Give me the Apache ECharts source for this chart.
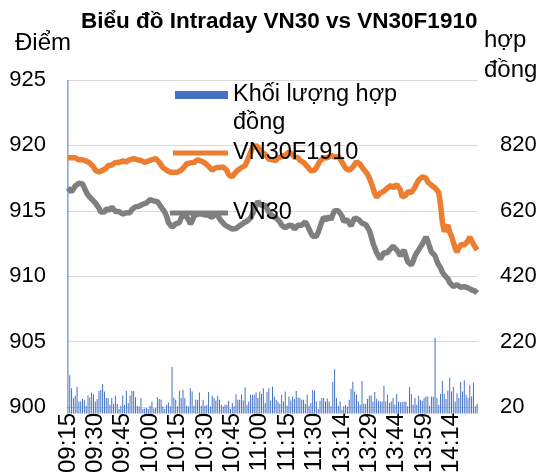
<!DOCTYPE html>
<html>
<head>
<meta charset="utf-8">
<script src="https://cdn.jsdelivr.net/npm/echarts@6/dist/echarts.min.js"></script>
<style>
  html, body { margin: 0; padding: 0; background: #fff; }
  #chart { width: 550px; height: 476px; }
</style>
</head>
<body>
<div id="chart"></div>
<script>
// phiên sáng 09:15-11:30, phiên chiều 13:00-14:28 (mỗi phút một cột)
function buildTimes(start, end) {
  var out = [];
  var s = start.split(':'), e = end.split(':');
  var t = +s[0] * 60 + +s[1], stop = +e[0] * 60 + +e[1];
  for (; t <= stop; t++) {
    var h = Math.floor(t / 60), m = t % 60;
    out.push((h < 10 ? '0' : '') + h + ':' + (m < 10 ? '0' : '') + m);
  }
  return out;
}
const times = buildTimes('09:15', '11:30').concat(buildTimes('13:00', '14:28'));

// VN30F1910 (điểm)
const vn30f = [
  919.05, 918.95, 919.05, 919.0, 919.05, 918.95, 918.9, 918.85, 918.9, 918.8, 918.8, 918.75, 918.65, 918.55, 918.35,
  918.1, 918.0, 917.95, 917.95, 918.1, 918.2, 918.25, 918.45, 918.4, 918.5, 918.65, 918.7, 918.75, 918.7, 918.75,
  918.8, 918.85, 918.75, 918.7, 918.9, 918.95, 919.0, 918.95, 918.9, 918.8, 918.85, 918.75, 918.7, 918.8, 918.8,
  918.85, 918.9, 918.95, 919.0, 918.9, 918.7, 918.55, 918.3, 918.2, 918.1, 918.05, 917.95, 917.9, 917.95, 918.05,
  917.95, 918.0, 918.1, 918.25, 918.4, 918.6, 918.65, 918.65, 918.75, 918.7, 918.75, 918.9, 918.95, 918.8, 918.75,
  918.65, 918.55, 918.4, 918.25, 918.1, 918.15, 918.3, 918.2, 918.3, 918.25, 918.35, 918.25, 918.1, 917.75, 917.6,
  917.6, 917.8, 917.95, 918.1, 918.15, 918.3, 918.35, 918.45, 918.75, 919.1, 919.45, 919.8, 919.95, 920.0, 919.85,
  919.7, 919.5, 919.55, 919.3, 919.15, 918.95, 919.05, 918.9, 919.0, 918.85, 919.05, 919.1, 919.15, 919.2, 919.25,
  919.35, 919.5, 919.45, 919.3, 919.1, 919.15, 919.05, 918.85, 918.8, 918.7, 918.55, 918.4, 918.3, 918.05, 917.95,
  918.1, 918.3, 918.55, 918.8, 918.95, 919.05, 918.95, 919.05, 919.1, 919.25, 919.2, 919.1, 919.05, 919.15, 918.95,
  918.8, 918.5, 918.25, 918.2, 918.1, 918.2, 918.35, 918.55, 918.75, 918.8, 918.55, 918.35, 918.15, 918.05, 917.8,
  917.5, 917.15, 916.75, 916.3, 916.05, 916.2, 916.35, 916.4, 916.5, 916.6, 916.75, 916.85, 916.95, 916.75, 916.6,
  917.0, 917.15, 916.6, 916.05, 915.9, 916.2, 916.45, 916.35, 916.4, 916.6, 916.8, 917.1, 917.35, 917.5, 917.6,
  917.6, 917.5, 917.2, 917.15, 916.95, 916.85, 916.75, 916.75, 916.4, 915.45, 914.15, 913.4, 913.7, 913.9, 913.35,
  913.05, 912.6, 912.15, 911.85, 912.15, 912.4, 912.3, 912.4, 912.55, 912.7, 913.0, 912.85, 912.45, 912.3, 912.0
];

// VN30 (điểm)
const vn30 = [
  916.75, 916.6, 916.45, 916.6, 916.9, 917.05, 917.1, 917.15, 917.05, 916.75, 916.45, 916.2, 916.05, 915.9, 915.75,
  915.6, 915.45, 915.2, 914.9, 914.75, 914.9, 915.15, 915.2, 915.05, 915.3, 915.2, 914.95, 915.1, 914.95, 914.8,
  914.75, 914.9, 914.85, 914.95, 914.85, 915.1, 915.2, 915.3, 915.25, 915.35, 915.45, 915.5, 915.55, 915.6, 915.75,
  915.85, 915.9, 915.75, 915.65, 915.7, 915.55, 915.3, 915.1, 914.9, 914.6, 914.1, 914.0, 913.75, 913.85, 914.0,
  913.85, 914.1, 914.45, 914.5, 914.75, 914.65, 914.3, 914.0, 914.2, 914.6, 914.75, 914.75, 914.85, 914.75, 914.8,
  914.7, 914.6, 914.65, 914.6, 914.5, 914.7, 914.75, 914.65, 914.4, 914.2, 914.05, 913.9, 913.85, 913.75, 913.65,
  913.6, 913.7, 913.65, 913.75, 913.85, 913.9, 914.05, 914.2, 914.2, 914.3, 914.45, 914.75, 915.05, 915.45, 915.7,
  915.6, 915.4, 915.4, 915.45, 915.15, 914.9, 914.75, 914.6, 914.55, 914.45, 914.3, 914.15, 913.9, 913.75, 913.7,
  913.75, 913.9, 914.05, 913.85, 913.6, 913.7, 913.9, 914.0, 913.9, 914.05, 914.15, 913.9, 913.6, 913.3, 913.05,
  912.9, 913.05, 913.35, 913.75, 914.15, 914.5, 914.45, 914.3, 914.6, 914.3, 914.7, 915.0, 915.05, 915.0, 914.85,
  914.6, 914.2, 914.15, 914.3, 914.05, 913.85, 914.15, 914.45, 914.5, 914.35, 914.2, 914.05, 913.9, 913.95, 913.9,
  913.5, 913.05, 912.55, 912.15, 911.8, 911.55, 911.3, 911.45, 911.8, 911.85, 911.8, 912.0, 912.15, 912.3, 912.2,
  912.0, 911.8, 911.55, 911.8, 912.0, 911.55, 911.1, 910.95, 910.85, 911.15, 911.55, 911.8, 912.0, 912.25, 912.45,
  912.6, 913.0, 912.7, 912.25, 911.85, 911.8, 911.55, 911.15, 910.85, 910.65, 910.3, 910.1, 909.95, 909.8, 909.5,
  909.35, 909.2, 909.15, 909.35, 909.25, 909.15, 909.1, 909.2, 909.25, 909.1, 908.95, 908.95, 908.9, 908.85, 908.7
];

// Khối lượng hợp đồng
const volume = [
  1020, 117, 77, 47, 54, 82, 37, 37, 45, 42, 24, 55, 49, 64, 59,
  37, 44, 69, 72, 90, 67, 47, 47, 27, 47, 30, 54, 30, 14, 24,
  55, 27, 69, 32, 55, 69, 69, 50, 24, 21, 47, 14, 15, 17, 14,
  24, 37, 15, 17, 50, 44, 42, 22, 14, 27, 34, 22, 142, 49, 42,
  22, 69, 47, 72, 47, 24, 21, 77, 67, 24, 42, 42, 64, 24, 42,
  24, 27, 66, 21, 54, 47, 40, 54, 42, 27, 21, 27, 27, 39, 14,
  32, 22, 59, 42, 42, 59, 40, 80, 27, 37, 57, 57, 57, 64, 47,
  67, 60, 77, 32, 66, 77, 40, 82, 52, 42, 37, 30, 57, 37, 67,
  24, 52, 40, 52, 44, 69, 49, 47, 42, 42, 30, 57, 24, 32, 72,
  70, 37, 14, 39, 47, 47, 37, 46, 37, 22, 97, 135, 47, 24, 37,
  12, 22, 26, 21, 42, 75, 97, 67, 57, 37, 27, 99, 30, 30, 44,
  54, 56, 37, 66, 45, 39, 37, 37, 84, 37, 57, 32, 37, 47, 27,
  60, 37, 34, 34, 36, 37, 22, 80, 60, 27, 47, 27, 54, 42, 39,
  47, 52, 52, 24, 52, 52, 232, 47, 27, 60, 100, 60, 44, 70, 110,
  67, 82, 37, 62, 47, 97, 67, 102, 57, 47, 87, 52, 94, 22, 30
];

const leftTicks = [900, 905, 910, 915, 920, 925];
const rightTicks = [20, 220, 420, 620, 820];

const FONT = '"Liberation Sans", Arial, sans-serif';

const chart = echarts.init(document.getElementById('chart'), null, { renderer: 'canvas' });

const option = {
  animation: false,
  backgroundColor: '#fff',
  title: {
    text: 'Biểu đồ Intraday VN30 vs VN30F1910',
    left: 76,
    top: 5,
    textStyle: { fontFamily: FONT, fontSize: 22.5, fontWeight: 'bold', color: '#000' }
  },
  legend: [
    {
      data: ['Khối lượng hợp đồng'],
      left: 170, top: 76,
      // ô màu nằm ngang dòng chữ đầu tiên
      icon: 'path://M0,0H53V8H0Z M0,36L0.01,36',
      itemWidth: 53, itemHeight: 36,
      formatter: function () { return 'Khối lượng hợp\nđồng'; },
      textStyle: { fontFamily: FONT, fontSize: 23.5, color: '#000', lineHeight: 28 }
    },
    {
      data: ['VN30F1910'],
      left: 168, top: 134,
      icon: 'rect', itemWidth: 55, itemHeight: 5,
      textStyle: { fontFamily: FONT, fontSize: 23.5, color: '#000', lineHeight: 28 }
    },
    {
      data: ['VN30'],
      left: 165, top: 194,
      icon: 'rect', itemWidth: 58, itemHeight: 5,
      textStyle: { fontFamily: FONT, fontSize: 23.5, color: '#000', lineHeight: 28 }
    }
  ],
  grid: { left: 67, right: 72, top: 80, bottom: 69 },
  xAxis: {
    type: 'category',
    data: times,
    boundaryGap: true,
    axisLine: { show: true, lineStyle: { color: '#d9d9d9' } },
    axisTick: { show: false },
    axisLabel: {
      interval: 14,
      rotate: 90,
      margin: 6,
      fontFamily: FONT,
      fontSize: 24,
      color: '#000'
    }
  },
  yAxis: [
    {
      type: 'value',
      name: 'Điểm',
      nameLocation: 'end',
      nameGap: 25,
      nameTextStyle: { fontFamily: FONT, fontSize: 24, color: '#000', align: 'center', padding: [0, 48, 0, 0] },
      min: leftTicks[0],
      max: leftTicks[leftTicks.length - 1],
      interval: 5,
      axisLine: { show: false },
      axisTick: { show: false },
      axisLabel: { margin: 21, fontFamily: FONT, fontSize: 22, color: '#000' },
      splitLine: { show: true, lineStyle: { color: '#d9d9d9', width: 1 } }
    },
    {
      type: 'value',
      name: 'hợp\nđồng',
      nameLocation: 'end',
      nameGap: -5,
      nameTextStyle: { fontFamily: FONT, fontSize: 24, color: '#000', align: 'left', lineHeight: 30, padding: [0, 0, 0, 6] },
      min: 20,
      max: 1020,
      axisLine: { show: false },
      axisTick: { show: false },
      axisLabel: { customValues: rightTicks, margin: 22, fontFamily: FONT, fontSize: 22, color: '#000' },
      splitLine: { show: false }
    }
  ],
  series: [
    {
      name: 'Khối lượng hợp đồng',
      type: 'bar',
      yAxisIndex: 1,
      data: volume,
      barWidth: 1,
      clip: false,
      itemStyle: { color: '#4472c4' },
      z: 1
    },
    {
      name: 'VN30F1910',
      type: 'line',
      data: vn30f,
      symbol: 'none',
      lineStyle: { color: '#ed7d31', width: 5.5 },
      itemStyle: { color: '#ed7d31' },
      z: 3
    },
    {
      name: 'VN30',
      type: 'line',
      data: vn30,
      symbol: 'none',
      lineStyle: { color: '#7f7f7f', width: 5.5 },
      itemStyle: { color: '#7f7f7f' },
      z: 3
    }
  ]
};

chart.setOption(option);
</script>
</body>
</html>
